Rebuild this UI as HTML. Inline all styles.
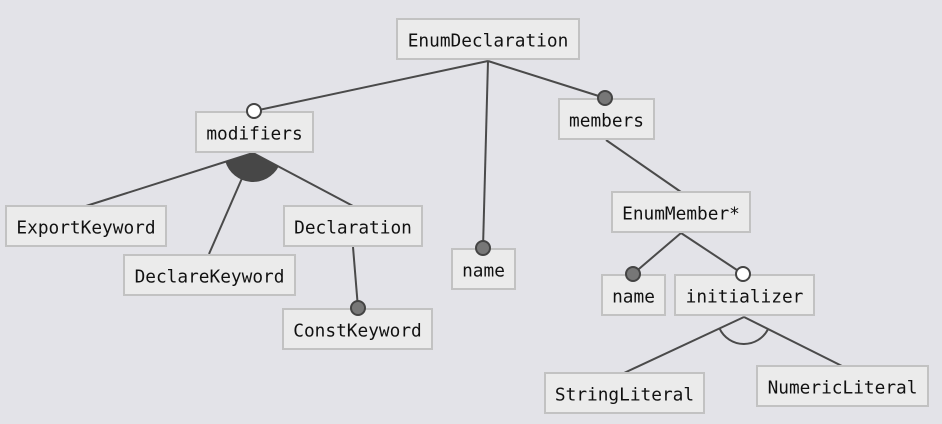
<!DOCTYPE html>
<html><head><meta charset="utf-8"><style>
html,body{margin:0;padding:0;background:#e3e3e8;}
svg{display:block}
text{font-family:"DejaVu Sans Mono","Liberation Mono",monospace;font-size:17.8px;fill:#111;text-anchor:middle;dominant-baseline:central}
rect{fill:#ebebeb;stroke:#c2c2c2;stroke-width:2}
line{stroke:#4a4a4a;stroke-width:2}
.f{fill:#777;stroke:#444;stroke-width:2}
.o{fill:#fff;stroke:#444;stroke-width:2}
</style></head><body>
<svg width="942" height="424" viewBox="0 0 942 424">
<rect x="0" y="0" width="942" height="424" style="fill:#e3e3e8;stroke:none"/>
<line x1="488" y1="61" x2="254" y2="111"/>
<line x1="488" y1="61" x2="483" y2="248"/>
<line x1="488" y1="61" x2="605" y2="98"/>
<line x1="253" y1="153" x2="86" y2="206"/>
<line x1="253" y1="153" x2="209" y2="254"/>
<line x1="253" y1="153" x2="353" y2="206"/>
<line x1="353" y1="247" x2="358" y2="308"/>
<line x1="606" y1="140" x2="681" y2="192"/>
<line x1="681" y1="233" x2="633" y2="274"/>
<line x1="681" y1="233" x2="743" y2="274"/>
<line x1="744" y1="317" x2="624" y2="373"/>
<line x1="744" y1="317" x2="842" y2="366"/>
<rect x="397" y="19" width="182" height="40"/><text x="488" y="41">EnumDeclaration</text>
<rect x="196" y="112" width="117" height="40"/><text x="254.5" y="134">modifiers</text>
<rect x="559" y="99" width="95" height="40"/><text x="606.5" y="121">members</text>
<rect x="6" y="206" width="160" height="40"/><text x="86" y="228">ExportKeyword</text>
<rect x="124" y="255" width="171" height="40"/><text x="209.5" y="277">DeclareKeyword</text>
<rect x="284" y="206" width="138" height="40"/><text x="353" y="228">Declaration</text>
<rect x="283" y="309" width="149" height="40"/><text x="357.5" y="331">ConstKeyword</text>
<rect x="452" y="249" width="63" height="40"/><text x="483.5" y="271">name</text>
<rect x="612" y="192" width="138" height="40"/><text x="681" y="214">EnumMember*</text>
<rect x="602" y="275" width="63" height="40"/><text x="633.5" y="297">name</text>
<rect x="675" y="275" width="139" height="40"/><text x="744.5" y="297">initializer</text>
<rect x="545" y="373" width="159" height="40"/><text x="624.5" y="395">StringLiteral</text>
<rect x="757" y="366" width="171" height="40"/><text x="842.5" y="388">NumericLiteral</text>
<path d="M253,153 L225.3,161.5 A29 29 0 0 0 278.8,166.2 Z" fill="#474747"/>
<path d="M719.5,328.4 A27 27 0 0 0 768.1,329.1" fill="none" stroke="#4a4a4a" stroke-width="2"/>
<circle class="o" cx="254" cy="111" r="7"/>
<circle class="f" cx="483" cy="248" r="7"/>
<circle class="f" cx="605" cy="98" r="7"/>
<circle class="f" cx="358" cy="308" r="7"/>
<circle class="f" cx="633" cy="274" r="7"/>
<circle class="o" cx="743" cy="274" r="7"/>
</svg>
</body></html>
